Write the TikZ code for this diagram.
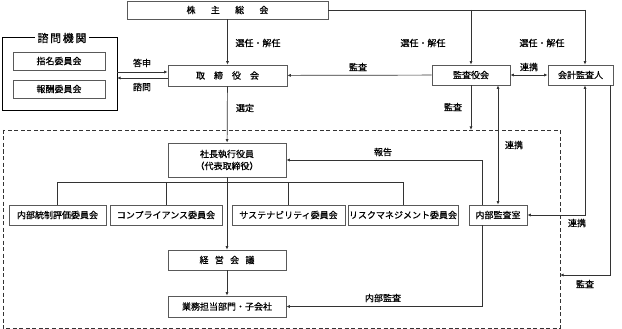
\documentclass[tikz,border=0pt]{standalone}
\usepackage{fontspec}
\setmainfont{Noto Sans CJK JP}[FakeBold=0.5]
\usetikzlibrary{arrows.meta,shadows}

\begin{document}
\begin{tikzpicture}[x=1pt,y=-1pt,
    font=\fontsize{9}{10}\selectfont,
    box/.style={draw=black!65,fill=white,line width=0.6pt,inner sep=0pt,align=center,
        drop shadow={shadow xshift=0.8pt,shadow yshift=-0.8pt,opacity=0.7,fill=black}},
    lbl/.style={inner sep=1pt},
    line/.style={draw=black!80,line width=0.7pt},
    arr/.style={line,-{Latex[length=3.5pt,width=3pt]}},
    darr/.style={line,{Latex[length=3.5pt,width=3pt]}-{Latex[length=3.5pt,width=3pt]}}]
        \useasboundingbox (0,0) rectangle (622,329);

        % akcionáři a orgány
        \node[box,minimum width=201pt,minimum height=18pt] (kabu) at (227.5,10) {株\hspace{1.7em}主\hspace{1.7em}総\hspace{1.7em}会};
        \node[box,minimum width=119pt,minimum height=21pt] (tori) at (227.5,75.5) {取\hspace{1em}締\hspace{1em}役\hspace{1em}会};
        \node[box,minimum width=78pt,minimum height=20pt] (kansa) at (471,75) {監査役会};
        \node[box,minimum width=65pt,minimum height=20pt] (kaikei) at (580.5,75) {会計監査人};

        % 諮問機関
        \draw[line width=1pt] (2,38) rectangle (117,111);
        \node[fill=white,inner sep=3pt,font=\fontsize{11}{12}\selectfont] (shimon) at (62,38) {諮\hspace{0.15em}問\hspace{0.15em}機\hspace{0.15em}関};
        \node[box,minimum width=92pt,minimum height=18pt] (shimei) at (59,61) {指名委員会};
        \node[box,minimum width=92pt,minimum height=18pt] (hoshu) at (59,89) {報酬委員会};
        \coordinate (shR1) at (117,72);
        \coordinate (shR2) at (117,78);

        % vykonná část
        \draw[line,dashed,dash pattern=on 4pt off 2.5pt] (3,130) rectangle (560,328);
        \coordinate (dashT) at (471,130);
        \coordinate (dashR) at (560,275);
        \node[box,minimum width=118pt,minimum height=34pt,font=\fontsize{9}{12}\selectfont] (shacho) at (227,160) {社長執行役員\\（代表取締役）};
        \node[box,minimum width=97pt,minimum height=20pt] (naibu) at (57.5,215) {内部統制評価委員会};
        \node[box,minimum width=112pt,minimum height=20pt] (comp) at (166,215) {コンプライアンス委員会};
        \node[box,minimum width=113pt,minimum height=20pt] (sus) at (288.5,215) {サステナビリティ委員会};
        \node[box,minimum width=110pt,minimum height=20pt] (risk) at (403,215) {リスクマネジメント委員会};
        \node[box,minimum width=58pt,minimum height=20pt] (shitsu) at (498,215) {内部監査室};
        \node[box,minimum width=118pt,minimum height=20pt] (keiei) at (227,260) {経\hspace{0.7em}営\hspace{0.7em}会\hspace{0.7em}議};
        \node[box,minimum width=118pt,minimum height=21pt] (gyomu) at (227,306.5) {業務担当部門・子会社};

        % 株主総会 -> orgány
        \draw[arr] (kabu) -- (tori);
        \draw[line] (kabu.east) -- (585,10);
        \draw[arr] (585,10) -- (kaikei.north -| 585,0);
        \draw[arr] (471,10) -- (kansa.north);
        \node[lbl] (l1) at (258,43) {選任・解任};
        \node[lbl] (l2) at (423,43) {選任・解任};
        \node[lbl] (l3) at (542,43) {選任・解任};

        % kontrola a spolupráce nahoře
        \draw[arr] (kansa) -- (tori);
        \node[lbl] (l4) at (358,67) {監査};
        \draw[darr] (kansa) -- (kaikei);
        \node[lbl] (l5) at (529,67) {連携};
        \draw[arr] (shR1) -- (tori.west |- shR1);
        \draw[arr] (tori.west |- shR2) -- (shR2);
        \node[lbl] (l6) at (142,63) {答申};
        \node[lbl] (l7) at (142,87) {諮問};

        % 選定 a linie řízení
        \draw[arr] (tori) -- (shacho);
        \node[lbl] (l8) at (245,108) {選定};
        \draw[arr] (kansa) -- (dashT);
        \node[lbl] (l9) at (453,107) {監査};
        \draw[line] (naibu.north) -- ++(0,-22) -| (risk.north);
        \draw[line] (comp.north) -- ++(0,-22);
        \draw[line] (sus.north) -- ++(0,-22);
        \draw[arr] (shacho) -- (keiei);
        \draw[arr] (keiei) -- (gyomu);

        % 内部監査室
        \draw[arr] (shitsu.north -| 482,0) |- (shacho.east);
        \node[lbl] (l10) at (383,152) {報告};
        \draw[arr] (shitsu.south -| 482,0) |- (gyomu.east);
        \node[lbl] (l11) at (383,298) {内部監査};
        \draw[darr] (kansa.south -| shitsu) -- (shitsu.north);
        \node[lbl] (l12) at (514,145) {連携};
        \draw[darr] (kaikei.south -| 585,0) |- (shitsu.east);
        \node[lbl] (l13) at (577,223) {連携};
        \draw[arr] (kaikei.south -| 610,0) |- (dashR);
        \node[lbl] (l14) at (585,284) {監査};
    \end{tikzpicture}
\end{document}
